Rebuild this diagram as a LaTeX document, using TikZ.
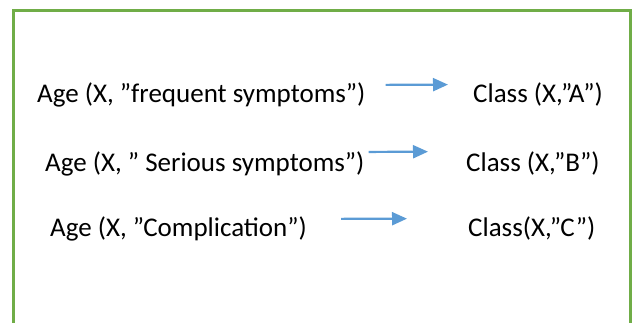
\documentclass[tikz,border=0pt]{standalone}
\usepackage{fontspec}
\setmainfont{Carlito}
\usetikzlibrary{arrows.meta}
\definecolor{framegreen}{HTML}{70AD47}
\definecolor{arrowblue}{HTML}{5B9BD5}

\begin{document}
\begin{tikzpicture}[x=1pt, y=-1pt,
    rule/.style={inner sep=0pt, anchor=base west, font=\fontsize{27}{32}\selectfont},
    flow/.style={arrowblue, line width=2.2pt, -{Triangle[length=15pt, width=13pt]}}]
    \clip (0, 0) rectangle (634, 322);
    \draw[framegreen, line width=3pt] (13, 330) -- (13, 10) -- (630, 10) -- (630, 330);

    \draw
    (37, 102) node[rule](A1){Age (X, ”frequent symptoms”)}
    (45, 171) node[rule](A2){Age (X, ” Serious symptoms”)}
    (50, 236) node[rule](A3){Age (X, ”Complication”)}
    (473, 102) node[rule](C1){Class (X,”A”)}
    (466, 171) node[rule](C2){Class (X,”B”)}
    (468, 236) node[rule](C3){Class(X,”C”)};

    \draw[flow, shorten <=20pt, shorten >=25pt] ([yshift=9.5pt]A1.east) -- ([yshift=9.5pt]C1.west);
    \draw[flow, shorten <=4pt, shorten >=38pt] ([yshift=11.5pt]A2.east) -- ([yshift=11.5pt]C2.west);
    \draw[flow, shorten <=34pt, shorten >=61pt] ([yshift=9.5pt]A3.east) -- ([yshift=9.5pt]C3.west);

  \end{tikzpicture}
\end{document}
